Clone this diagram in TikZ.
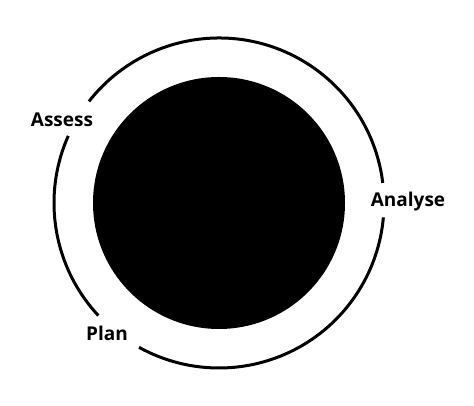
\documentclass[tikz,border=0pt]{standalone}
\usepackage{fontspec}
\setmainfont{Open Sans}
\begin{document}
\begin{tikzpicture}[x=1pt,y=1pt]
\tikzset{stage/.style={font=\fontsize{19}{22}\selectfont\bfseries, inner sep=1pt}}
\useasboundingbox (0,0) rectangle (474,406);
\fill (219,203) circle (126);

\draw[line width=3pt] ([shift={(7:165)}]219,203) arc (7:142:165);
\draw[line width=3pt] ([shift={(156:165)}]219,203) arc (156:223:165);
\draw[line width=3pt] ([shift={(241:165)}]219,203) arc (241:355:165);

\node[stage] (assess) at (62,286) {Assess};
\node[stage] (analyse) at (408,204) {Analyse};
\node[stage] (plan) at (107,73) {Plan};
\end{tikzpicture}
\end{document}
